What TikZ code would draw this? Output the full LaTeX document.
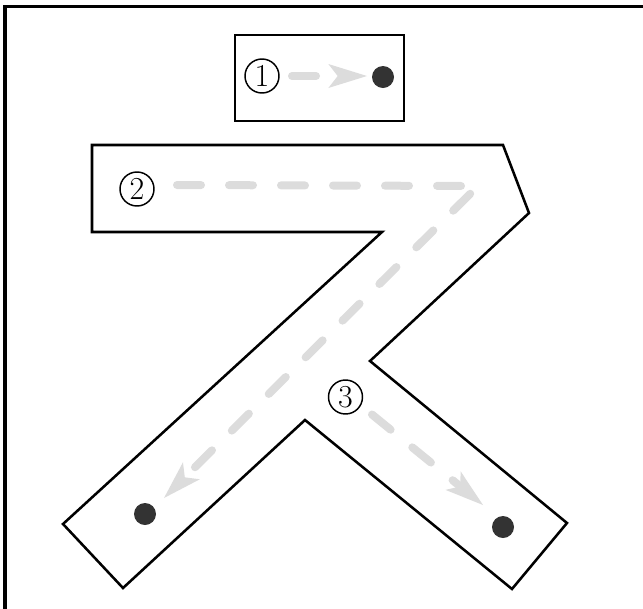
\documentclass[tikz,border=0pt]{standalone}
\usetikzlibrary{arrows.meta}
\definecolor{guidec}{HTML}{DCDCDC}
\definecolor{dotc}{HTML}{333333}
\begin{document}
\begin{tikzpicture}[x=0.75pt,y=-0.75pt,
  num/.style={circle,draw,line width=1.1pt,inner sep=0pt,minimum size=25.5pt,font=\fontsize{24}{24}\selectfont},
  dotmark/.style={circle,fill=dotc,inner sep=0pt,minimum size=16.5pt},
  guide/.style={draw=guidec,line width=6pt,line cap=round,line join=round,dash pattern=on 18pt off 21pt,
    -{Stealth[length=29pt,width=18pt,inset=7pt,line width=0pt,fill=guidec]}},
  outline/.style={draw,line width=1.9pt,line join=miter}]
\useasboundingbox (0,0) rectangle (643,608);
\begin{scope}
\clip (0,0) rectangle (643,608);
\draw[line width=2.4pt] (5,6.5) rectangle (700,700);
\end{scope}
% stroke 1 box
\draw[outline] (235,35) rectangle (404,121);
% strokes 2 and 3 outline
\draw[outline] (92,145) -- (503,145) -- (529,213) -- (370,361) -- (567,523) -- (512,589)
  -- (305,420) -- (123,588) -- (63,524) -- (382,232) -- (92,232) -- cycle;
% numbers
\node[num] (n1) at (262,76) {1};
\node[num] (n2) at (137,189) {2};
\node[num] (n3) at (345.5,397) {3};
% dots
\node[dotmark] (d1) at (383,77) {};
\node[dotmark] (d2) at (145,514) {};
\node[dotmark] (d3) at (503,527) {};
% guide paths
\coordinate (s1) at (292,76);
\coordinate (t1) at (367,76);
\coordinate (s2) at (177,185);
\coordinate (c2) at (478,186);
\coordinate (t2) at (164,498);
\coordinate (s3) at (372,414.5);
\coordinate (t3) at (483,505);
\draw[guide] (s1) -- (t1);
\draw[guide] (s2) -- (c2) -- (t2);
\draw[guide] (s3) -- (t3);
\end{tikzpicture}
\end{document}
